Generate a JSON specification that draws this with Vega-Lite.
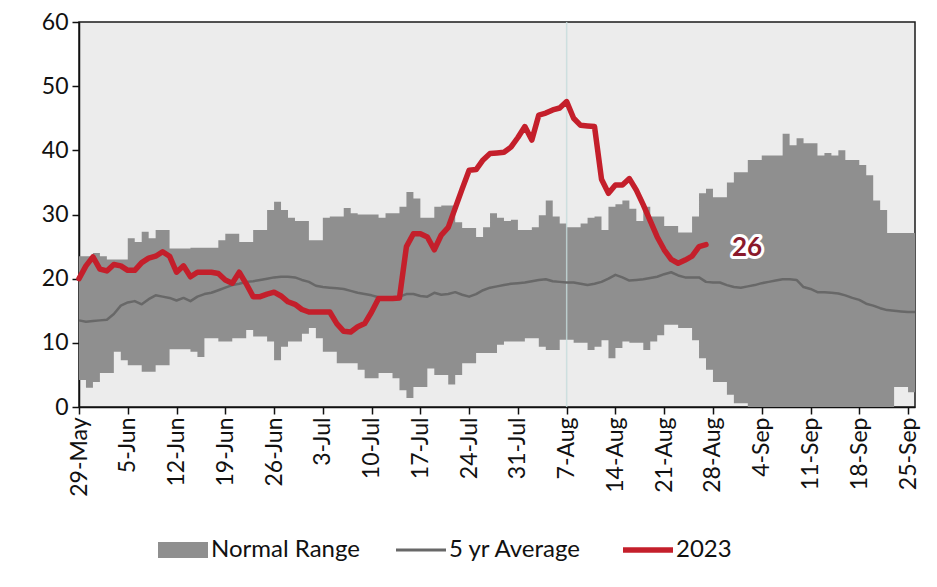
{
  "$schema": "https://vega.github.io/schema/vega-lite/v6.json",
  "width": 836,
  "height": 385,
  "autosize": {"type": "none"},
  "padding": {"left": 79, "top": 22, "right": 22, "bottom": 180},
  "background": "white",
  "config": {
    "font": "Lato",
    "view": {"stroke": "#1a1a1a", "strokeWidth": 1.5, "fill": "#ececec"}
  },
  "data": {"values": [
    {"date":"2023-05-29","lower":4.2,"upper":23.5,"avg":13.5,"y2023":20},
    {"date":"2023-05-30","lower":3,"upper":23.5,"avg":13.3,"y2023":22},
    {"date":"2023-05-31","lower":3.9,"upper":24,"avg":13.4,"y2023":23.4},
    {"date":"2023-06-01","lower":5.3,"upper":23.5,"avg":13.5,"y2023":21.5},
    {"date":"2023-06-02","lower":5.3,"upper":23,"avg":13.6,"y2023":21.2},
    {"date":"2023-06-03","lower":8.6,"upper":23,"avg":14.5,"y2023":22.2},
    {"date":"2023-06-04","lower":7.3,"upper":23,"avg":15.8,"y2023":22},
    {"date":"2023-06-05","lower":6.5,"upper":26.3,"avg":16.3,"y2023":21.3},
    {"date":"2023-06-06","lower":6.5,"upper":25.7,"avg":16.5,"y2023":21.3},
    {"date":"2023-06-07","lower":5.5,"upper":27.3,"avg":16,"y2023":22.5},
    {"date":"2023-06-08","lower":5.5,"upper":26.3,"avg":16.8,"y2023":23.2},
    {"date":"2023-06-09","lower":6.5,"upper":27.6,"avg":17.4,"y2023":23.5},
    {"date":"2023-06-10","lower":6.5,"upper":27.6,"avg":17.2,"y2023":24.2},
    {"date":"2023-06-11","lower":9,"upper":24.7,"avg":17,"y2023":23.5},
    {"date":"2023-06-12","lower":9,"upper":24.7,"avg":16.6,"y2023":21},
    {"date":"2023-06-13","lower":9,"upper":24.7,"avg":17,"y2023":22},
    {"date":"2023-06-14","lower":8.6,"upper":24.8,"avg":16.5,"y2023":20.3},
    {"date":"2023-06-15","lower":7.8,"upper":24.8,"avg":17.2,"y2023":21},
    {"date":"2023-06-16","lower":10.7,"upper":24.8,"avg":17.6,"y2023":21},
    {"date":"2023-06-17","lower":10.7,"upper":24.8,"avg":17.8,"y2023":21},
    {"date":"2023-06-18","lower":10.2,"upper":26,"avg":18.2,"y2023":20.8},
    {"date":"2023-06-19","lower":10.2,"upper":27,"avg":18.6,"y2023":19.8},
    {"date":"2023-06-20","lower":10.7,"upper":27,"avg":19,"y2023":19.3},
    {"date":"2023-06-21","lower":10.7,"upper":25.7,"avg":19.2,"y2023":21},
    {"date":"2023-06-22","lower":12,"upper":25.7,"avg":19.5,"y2023":19.2},
    {"date":"2023-06-23","lower":11,"upper":27.6,"avg":19.6,"y2023":17.2},
    {"date":"2023-06-24","lower":11,"upper":27.6,"avg":19.8,"y2023":17.2},
    {"date":"2023-06-25","lower":10.2,"upper":30.7,"avg":20,"y2023":17.6},
    {"date":"2023-06-26","lower":7.3,"upper":32,"avg":20.2,"y2023":17.9},
    {"date":"2023-06-27","lower":9.4,"upper":30.7,"avg":20.3,"y2023":17.3},
    {"date":"2023-06-28","lower":10.2,"upper":29.5,"avg":20.3,"y2023":16.4},
    {"date":"2023-06-29","lower":10.2,"upper":29,"avg":20.2,"y2023":16},
    {"date":"2023-06-30","lower":11.4,"upper":29,"avg":19.8,"y2023":15.2},
    {"date":"2023-07-01","lower":12.3,"upper":26,"avg":19.5,"y2023":14.8},
    {"date":"2023-07-02","lower":10.7,"upper":26,"avg":18.9,"y2023":14.8},
    {"date":"2023-07-03","lower":8.6,"upper":29.5,"avg":18.7,"y2023":14.8},
    {"date":"2023-07-04","lower":8.6,"upper":29.7,"avg":18.6,"y2023":14.8},
    {"date":"2023-07-05","lower":6.8,"upper":29.7,"avg":18.5,"y2023":13},
    {"date":"2023-07-06","lower":6.8,"upper":31,"avg":18.4,"y2023":11.8},
    {"date":"2023-07-07","lower":6.8,"upper":30.2,"avg":18.1,"y2023":11.7},
    {"date":"2023-07-08","lower":5.8,"upper":30,"avg":17.8,"y2023":12.5},
    {"date":"2023-07-09","lower":4.5,"upper":30,"avg":17.6,"y2023":13},
    {"date":"2023-07-10","lower":4.5,"upper":30,"avg":17.4,"y2023":14.8},
    {"date":"2023-07-11","lower":5.3,"upper":29.5,"avg":17.1,"y2023":16.9},
    {"date":"2023-07-12","lower":5.3,"upper":30.2,"avg":17,"y2023":16.9},
    {"date":"2023-07-13","lower":4.5,"upper":30.2,"avg":17,"y2023":16.9},
    {"date":"2023-07-14","lower":2.6,"upper":31.2,"avg":17.2,"y2023":17},
    {"date":"2023-07-15","lower":1.4,"upper":33.5,"avg":17.6,"y2023":25},
    {"date":"2023-07-16","lower":3.1,"upper":32.5,"avg":17.6,"y2023":27},
    {"date":"2023-07-17","lower":3.1,"upper":29.5,"avg":17.3,"y2023":27},
    {"date":"2023-07-18","lower":6,"upper":29.5,"avg":17.2,"y2023":26.5},
    {"date":"2023-07-19","lower":5,"upper":31.2,"avg":17.8,"y2023":24.5},
    {"date":"2023-07-20","lower":5,"upper":31.4,"avg":17.5,"y2023":26.8},
    {"date":"2023-07-21","lower":3.5,"upper":31.4,"avg":17.6,"y2023":28},
    {"date":"2023-07-22","lower":5,"upper":28.8,"avg":17.9,"y2023":31},
    {"date":"2023-07-23","lower":6.8,"upper":27.9,"avg":17.5,"y2023":34},
    {"date":"2023-07-24","lower":6.8,"upper":27.9,"avg":17.2,"y2023":36.9},
    {"date":"2023-07-25","lower":8.4,"upper":26.5,"avg":17.6,"y2023":37},
    {"date":"2023-07-26","lower":8.4,"upper":28,"avg":18.2,"y2023":38.5},
    {"date":"2023-07-27","lower":8.4,"upper":30.2,"avg":18.6,"y2023":39.5},
    {"date":"2023-07-28","lower":9.7,"upper":29.5,"avg":18.8,"y2023":39.6},
    {"date":"2023-07-29","lower":10.2,"upper":29,"avg":19,"y2023":39.7},
    {"date":"2023-07-30","lower":10.2,"upper":29.2,"avg":19.2,"y2023":40.5},
    {"date":"2023-07-31","lower":10.2,"upper":27.6,"avg":19.3,"y2023":42},
    {"date":"2023-08-01","lower":10.7,"upper":27.6,"avg":19.4,"y2023":43.7},
    {"date":"2023-08-02","lower":10.7,"upper":28,"avg":19.6,"y2023":41.6},
    {"date":"2023-08-03","lower":9.4,"upper":29.9,"avg":19.8,"y2023":45.5},
    {"date":"2023-08-04","lower":8.9,"upper":32.2,"avg":19.9,"y2023":45.8},
    {"date":"2023-08-05","lower":8.9,"upper":29.7,"avg":19.6,"y2023":46.3},
    {"date":"2023-08-06","lower":10.5,"upper":28.6,"avg":19.5,"y2023":46.6},
    {"date":"2023-08-07","lower":10.5,"upper":28,"avg":19.4,"y2023":47.6},
    {"date":"2023-08-08","lower":10,"upper":28,"avg":19.4,"y2023":45},
    {"date":"2023-08-09","lower":10,"upper":28.6,"avg":19.2,"y2023":43.9},
    {"date":"2023-08-10","lower":8.9,"upper":29.5,"avg":19,"y2023":43.8},
    {"date":"2023-08-11","lower":9.4,"upper":29.7,"avg":19.2,"y2023":43.7},
    {"date":"2023-08-12","lower":10.4,"upper":27.6,"avg":19.5,"y2023":35.5},
    {"date":"2023-08-13","lower":7.6,"upper":31.2,"avg":20,"y2023":33.3},
    {"date":"2023-08-14","lower":9.2,"upper":31.6,"avg":20.6,"y2023":34.6},
    {"date":"2023-08-15","lower":10.2,"upper":32.2,"avg":20.2,"y2023":34.6},
    {"date":"2023-08-16","lower":10,"upper":30.9,"avg":19.7,"y2023":35.6},
    {"date":"2023-08-17","lower":10,"upper":29,"avg":19.8,"y2023":33.8},
    {"date":"2023-08-18","lower":8.9,"upper":31.2,"avg":19.9,"y2023":31.5},
    {"date":"2023-08-19","lower":10.2,"upper":29.7,"avg":20.1,"y2023":29},
    {"date":"2023-08-20","lower":11.2,"upper":29.7,"avg":20.3,"y2023":26.5},
    {"date":"2023-08-21","lower":12.8,"upper":28.2,"avg":20.7,"y2023":24.5},
    {"date":"2023-08-22","lower":12.8,"upper":28.2,"avg":21,"y2023":23},
    {"date":"2023-08-23","lower":12.3,"upper":27.2,"avg":20.5,"y2023":22.4},
    {"date":"2023-08-24","lower":12.3,"upper":27.2,"avg":20.2,"y2023":22.9},
    {"date":"2023-08-25","lower":10.4,"upper":29.7,"avg":20.2,"y2023":23.5},
    {"date":"2023-08-26","lower":7.6,"upper":33.3,"avg":20.2,"y2023":25},
    {"date":"2023-08-27","lower":5.8,"upper":34,"avg":19.5,"y2023":25.3,"label":"26"},
    {"date":"2023-08-28","lower":3.9,"upper":32.7,"avg":19.4},
    {"date":"2023-08-29","lower":3.9,"upper":32.7,"avg":19.4},
    {"date":"2023-08-30","lower":1.9,"upper":35,"avg":19},
    {"date":"2023-08-31","lower":0.6,"upper":36.6,"avg":18.7},
    {"date":"2023-09-01","lower":0.6,"upper":36.6,"avg":18.6},
    {"date":"2023-09-02","lower":0,"upper":38.5,"avg":18.8},
    {"date":"2023-09-03","lower":0,"upper":38.5,"avg":19},
    {"date":"2023-09-04","lower":0,"upper":39.2,"avg":19.3},
    {"date":"2023-09-05","lower":0,"upper":39.2,"avg":19.5},
    {"date":"2023-09-06","lower":0,"upper":39.2,"avg":19.7},
    {"date":"2023-09-07","lower":0,"upper":42.6,"avg":19.9},
    {"date":"2023-09-08","lower":0,"upper":40.8,"avg":19.9},
    {"date":"2023-09-09","lower":0,"upper":41.9,"avg":19.8},
    {"date":"2023-09-10","lower":0,"upper":41.1,"avg":18.7},
    {"date":"2023-09-11","lower":0,"upper":41.1,"avg":18.4},
    {"date":"2023-09-12","lower":0,"upper":39.2,"avg":17.9},
    {"date":"2023-09-13","lower":0,"upper":39.6,"avg":17.9},
    {"date":"2023-09-14","lower":0,"upper":39.2,"avg":17.8},
    {"date":"2023-09-15","lower":0,"upper":40,"avg":17.7},
    {"date":"2023-09-16","lower":0,"upper":38.5,"avg":17.4},
    {"date":"2023-09-17","lower":0,"upper":38.5,"avg":17},
    {"date":"2023-09-18","lower":0,"upper":37.7,"avg":16.7},
    {"date":"2023-09-19","lower":0,"upper":36.1,"avg":16.1},
    {"date":"2023-09-20","lower":0,"upper":32.2,"avg":15.8},
    {"date":"2023-09-21","lower":0,"upper":30.7,"avg":15.4},
    {"date":"2023-09-22","lower":0,"upper":27.1,"avg":15.1},
    {"date":"2023-09-23","lower":3.1,"upper":27.1,"avg":15},
    {"date":"2023-09-24","lower":3.1,"upper":27.1,"avg":14.9},
    {"date":"2023-09-25","lower":2.3,"upper":27.1,"avg":14.8},
    {"date":"2023-09-26","lower":2.3,"upper":27.1,"avg":14.8}
  ]},
  "encoding": {
    "x": {
      "field": "date",
      "type": "temporal",
      "scale": {
        "type": "utc",
        "domain": [
          {"year": 2023, "month": 5, "date": 29, "utc": true},
          {"year": 2023, "month": 9, "date": 26, "utc": true}
        ]
      },
      "axis": {
        "title": null,
        "grid": false,
        "format": "%-d-%b",
        "labelAngle": -90,
        "labelFont": "Lato",
        "labelFontSize": 23,
        "labelColor": "#111111",
        "labelPadding": 3,
        "labelOverlap": false,
        "tickColor": "#111111",
        "tickSize": 7,
        "tickWidth": 1.5,
        "domainColor": "#111111",
        "domainWidth": 1.5,
        "values": [
          {"year": 2023, "month": 5, "date": 29, "utc": true},
          {"year": 2023, "month": 6, "date": 5, "utc": true},
          {"year": 2023, "month": 6, "date": 12, "utc": true},
          {"year": 2023, "month": 6, "date": 19, "utc": true},
          {"year": 2023, "month": 6, "date": 26, "utc": true},
          {"year": 2023, "month": 7, "date": 3, "utc": true},
          {"year": 2023, "month": 7, "date": 10, "utc": true},
          {"year": 2023, "month": 7, "date": 17, "utc": true},
          {"year": 2023, "month": 7, "date": 24, "utc": true},
          {"year": 2023, "month": 7, "date": 31, "utc": true},
          {"year": 2023, "month": 8, "date": 7, "utc": true},
          {"year": 2023, "month": 8, "date": 14, "utc": true},
          {"year": 2023, "month": 8, "date": 21, "utc": true},
          {"year": 2023, "month": 8, "date": 28, "utc": true},
          {"year": 2023, "month": 9, "date": 4, "utc": true},
          {"year": 2023, "month": 9, "date": 11, "utc": true},
          {"year": 2023, "month": 9, "date": 18, "utc": true},
          {"year": 2023, "month": 9, "date": 25, "utc": true}
        ]
      }
    }
  },
  "layer": [
    {
      "mark": {"type": "area", "interpolate": "step-after", "opacity": 1},
      "encoding": {
        "y": {
          "field": "lower",
          "type": "quantitative",
          "scale": {"domain": [0, 60], "nice": false},
          "axis": {
            "title": null,
            "grid": false,
            "values": [0, 10, 20, 30, 40, 50, 60],
            "labelFont": "Lato",
            "labelFontSize": 23,
            "labelColor": "#111111",
            "labelPadding": 4,
            "tickColor": "#111111",
            "tickSize": 7,
            "tickWidth": 1.5,
            "domainColor": "#111111",
            "domainWidth": 1.5
          }
        },
        "y2": {"field": "upper"},
        "color": {
          "datum": "Normal Range",
          "type": "nominal",
          "scale": {
            "domain": ["Normal Range", "5 yr Average", "2023"],
            "range": ["#8f8f8f", "#686868", "#c41f2b"]
          },
          "legend": {
            "title": null,
            "orient": "none",
            "direction": "horizontal",
            "legendX": 92,
            "legendY": 516,
            "labelFont": "Lato",
            "labelFontSize": 24,
            "labelColor": "#111111",
            "labelOffset": 16,
            "columnPadding": 30,
            "symbolSize": 2500,
            "encoding": {
              "symbols": {
                "shape": {"value": {"expr": "datum.value === 'Normal Range' ? 'M-1,-0.32L1,-0.32L1,0.32L-1,0.32Z' : 'M-1,0L1,0'"}},
                "fill": {"value": {"expr": "datum.value === 'Normal Range' ? '#8f8f8f' : 'transparent'"}},
                "stroke": {"value": {"expr": "datum.value === 'Normal Range' ? '#8f8f8f' : datum.value === '2023' ? '#c41f2b' : '#686868'"}},
                "strokeWidth": {"value": {"expr": "datum.value === '2023' ? 5.5 : datum.value === '5 yr Average' ? 3 : 0"}},
                "opacity": {"value": 1}
              }
            }
          }
        }
      }
    },
    {
      "data": {"values": [{"date": "2023-08-07"}]},
      "mark": {"type": "rule", "color": "#c6dcdc", "strokeWidth": 1.5, "opacity": 0.8},
      "encoding": {}
    },
    {
      "mark": {"type": "line", "strokeWidth": 2.5, "strokeJoin": "round"},
      "encoding": {
        "y": {"field": "avg", "type": "quantitative"},
        "color": {"datum": "5 yr Average", "type": "nominal"}
      }
    },
    {
      "mark": {"type": "line", "strokeWidth": 5.5, "strokeJoin": "round", "strokeCap": "round"},
      "encoding": {
        "y": {"field": "y2023", "type": "quantitative"},
        "color": {"datum": "2023", "type": "nominal"}
      }
    },
    {
      "transform": [{"filter": "isValid(datum.label)"}],
      "mark": {"type": "text", "align": "left", "baseline": "middle", "dx": 26, "dy": 3, "fontSize": 26, "fontWeight": "bold", "font": "Lato", "color": "white", "stroke": "white", "strokeWidth": 6, "strokeJoin": "round"},
      "encoding": {
        "y": {"field": "y2023", "type": "quantitative"},
        "text": {"field": "label"}
      }
    },
    {
      "transform": [{"filter": "isValid(datum.label)"}],
      "mark": {"type": "text", "align": "left", "baseline": "middle", "dx": 26, "dy": 3, "fontSize": 26, "fontWeight": "bold", "font": "Lato", "color": "#8a1a2c"},
      "encoding": {
        "y": {"field": "y2023", "type": "quantitative"},
        "text": {"field": "label"}
      }
    }
  ]
}
